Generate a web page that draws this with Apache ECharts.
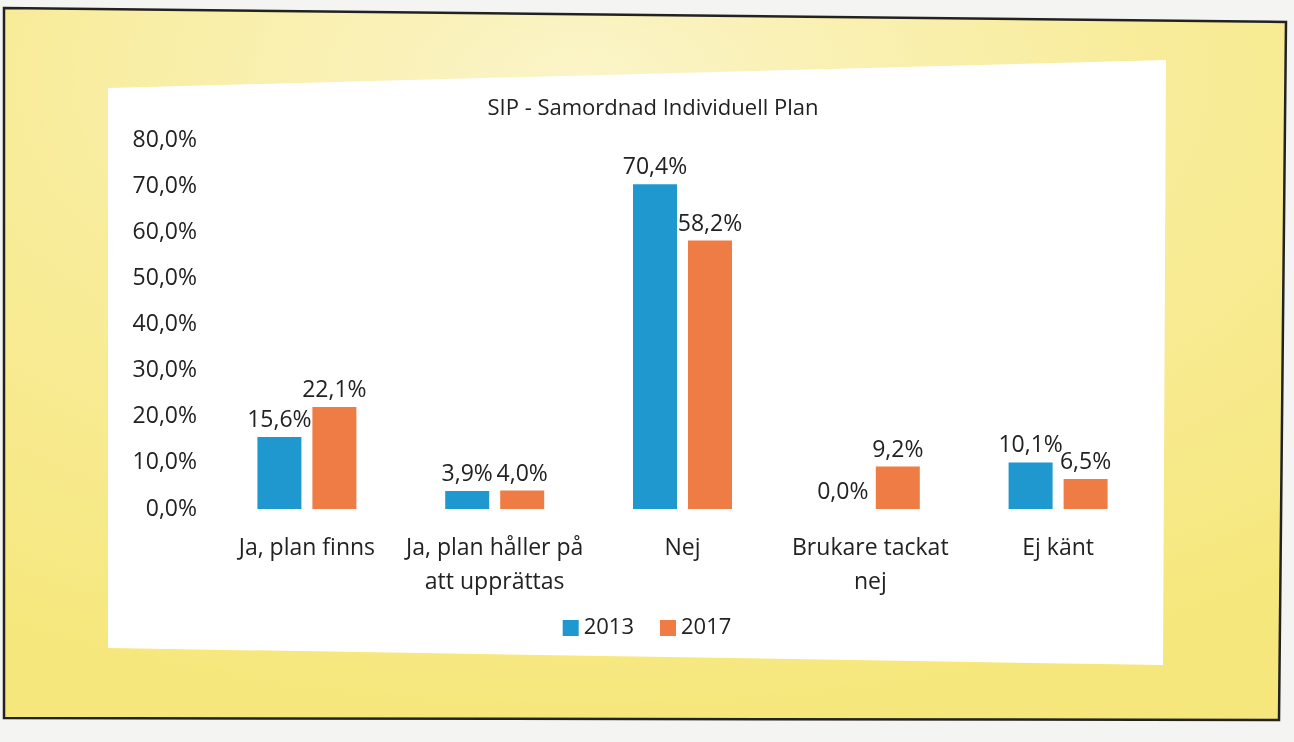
<!DOCTYPE html>
<html>
<head>
<meta charset="utf-8">
<script src="https://cdn.jsdelivr.net/npm/echarts@6/dist/echarts.min.js"></script>
<style>
html,body{margin:0;padding:0;width:1294px;height:742px;overflow:hidden;background:#f4f4f2;}
#bg{position:absolute;left:0;top:0;}
#chart{position:absolute;left:0;top:0;width:1294px;height:742px;}
</style>
</head>
<body>
<svg id="bg" width="1294" height="742">
  <defs>
    <radialGradient id="yg" cx="0.45" cy="0.1" r="0.9">
      <stop offset="0" stop-color="#fbf4c8"/>
      <stop offset="0.5" stop-color="#f8ec9a"/>
      <stop offset="1" stop-color="#f6e77c"/>
    </radialGradient>
  </defs>
  <polygon points="4,8 1286,22 1279,720 4,718" fill="url(#yg)" stroke="#222" stroke-width="2.5"/>
  <polygon points="108,88 1166,60 1163,665 108,648" fill="#ffffff"/>
</svg>
<div id="chart"></div>
<script>
var categories = ['Ja, plan finns', 'Ja, plan håller på\natt upprättas', 'Nej', 'Brukare tackat\nnej', 'Ej känt'];
var values2013 = [15.6, 3.9, 70.4, 0.0, 10.1];
var values2017 = [22.1, 4.0, 58.2, 9.2, 6.5];
var seriesNames = ['2013', '2017'];
var yTicks = [0, 10, 20, 30, 40, 50, 60, 70, 80];

function pct(v){ return Number(v).toFixed(1).replace('.', ',') + '%'; }

var chart = echarts.init(document.getElementById('chart'), null, {renderer:'canvas'});
var font = "'Open Sans', sans-serif";
var labelCfg = {show:true, position:'top', distance:5, color:'#222', fontSize:23, fontFamily:font,
  formatter:function(p){return pct(p.value);}};
chart.setOption({
  backgroundColor:'transparent',
  title:{text:'SIP - Samordnad Individuell Plan', left:648, top:93, textAlign:'center',
    textStyle:{fontSize:22, fontWeight:'normal', color:'#222', fontFamily:font}},
  legend:{data:seriesNames, left:'center', top:612, itemWidth:16, itemHeight:16, itemGap:26,
    icon:'rect', textStyle:{fontSize:22, color:'#222', fontFamily:font}},
  grid:{left:213, right:142, top:140, bottom:233},
  xAxis:{type:'category', data:categories,
    axisLine:{show:false}, axisTick:{show:false},
    axisLabel:{color:'#222', fontSize:23, lineHeight:34, margin:22, fontFamily:font, interval:0}},
  yAxis:{type:'value', min:yTicks[0], max:yTicks[yTicks.length-1], interval:10,
    axisLine:{show:false}, axisTick:{show:false}, splitLine:{show:false},
    axisLabel:{color:'#222', fontSize:23, margin:16, fontFamily:font, formatter:function(v){return pct(v);}}},
  series:[
    {name:seriesNames[0], type:'bar', data:values2013, barWidth:44, barGap:'25%',
      itemStyle:{color:'#1f98d0'}, label:labelCfg},
    {name:seriesNames[1], type:'bar', data:values2017, barWidth:44, barGap:'25%',
      itemStyle:{color:'#f07c45'}, label:labelCfg}
  ]
});
</script>
</body>
</html>
